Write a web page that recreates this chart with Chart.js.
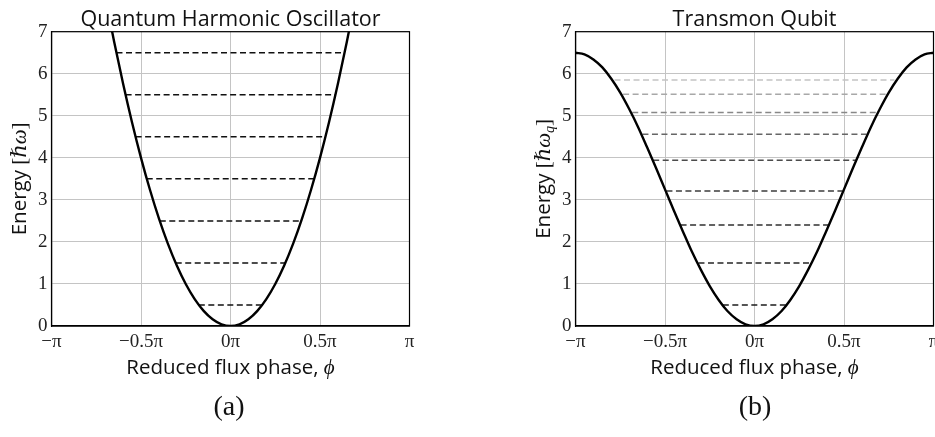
<!DOCTYPE html>
<html>
<head>
<meta charset="utf-8">
<script src="https://cdn.jsdelivr.net/npm/chart.js@4.4.1/dist/chart.umd.min.js"></script>
<style>
    html, body { margin: 0; padding: 0; background: #fff; }
    body { width: 935px; height: 437px; overflow: hidden; position: relative; }
    canvas { position: absolute; top: 0; }
    #qho { left: 0; }
    #transmon { left: 524px; }
    .sub { position: absolute; top: 390px; width: 60px; margin-left: -30px; text-align: center;
           font: 28px "Liberation Serif", "DejaVu Serif", serif; color: #111; }
</style>
</head>
<body>
<canvas id="qho" width="460" height="437"></canvas>
<canvas id="transmon" width="460" height="437"></canvas>
<div class="sub" style="left:229px">(a)</div>
<div class="sub" style="left:755px">(b)</div>

<script>
// ---------------------------
// Data (phase in units of pi)
// ---------------------------
const xTickVals = [-1, -0.5, 0, 0.5, 1];
const xTickLabels = ["\u2212\u03c0", "\u22120.5\u03c0", "0\u03c0", "0.5\u03c0", "\u03c0"];

// harmonic potential
const qhoPhase = [-0.7, -0.65, -0.6, -0.55, -0.5, -0.45, -0.4, -0.35, -0.3, -0.25, -0.2, -0.15, -0.1, -0.05, 0,
                  0.05, 0.1, 0.15, 0.2, 0.25, 0.3, 0.35, 0.4, 0.45, 0.5, 0.55, 0.6, 0.65, 0.7];
const qhoPotential = [7.84, 6.76, 5.76, 4.84, 4.0, 3.24, 2.56, 1.96, 1.44, 1.0, 0.64, 0.36, 0.16, 0.04, 0,
                      0.04, 0.16, 0.36, 0.64, 1.0, 1.44, 1.96, 2.56, 3.24, 4.0, 4.84, 5.76, 6.76, 7.84];
const qhoLevels = [0.5, 1.5, 2.5, 3.5, 4.5, 5.5, 6.5];
const qhoLevelHalfWidth = [0.177, 0.306, 0.395, 0.468, 0.53, 0.586, 0.637];

// cosine potential
const tmPhase = [-1, -0.95, -0.9, -0.85, -0.8, -0.75, -0.7, -0.65, -0.6, -0.55, -0.5, -0.45, -0.4, -0.35, -0.3,
                 -0.25, -0.2, -0.15, -0.1, -0.05, 0, 0.05, 0.1, 0.15, 0.2, 0.25, 0.3, 0.35, 0.4, 0.45, 0.5,
                 0.55, 0.6, 0.65, 0.7, 0.75, 0.8, 0.85, 0.9, 0.95, 1];
const tmPotential = [6.5, 6.46, 6.34, 6.15, 5.88, 5.55, 5.16, 4.73, 4.25, 3.76, 3.25, 2.74, 2.25, 1.77, 1.34,
                     0.95, 0.62, 0.35, 0.16, 0.04, 0, 0.04, 0.16, 0.35, 0.62, 0.95, 1.34, 1.77, 2.25, 2.74, 3.25,
                     3.76, 4.25, 4.73, 5.16, 5.55, 5.88, 6.15, 6.34, 6.46, 6.5];
const tmLevels = [0.5, 1.5, 2.4, 3.21, 3.94, 4.56, 5.08, 5.51, 5.85];
const tmLevelHalfWidth = [0.177, 0.313, 0.413, 0.492, 0.566, 0.626, 0.683, 0.734, 0.782];

// styles
const tmLevelGreys = ["#1c1c1c", "#262626", "#303030", "#3c3c3c", "#4c4c4c", "#666666", "#888888", "#a8a8a8", "#c4c4c4"];
const SANS = '"Open Sans", "DejaVu Sans", sans-serif';
const SERIF = '"Liberation Serif", "DejaVu Serif", serif';

// ---------------------------
// Helpers
// ---------------------------
function curveDataset(xs, ys) {
    return {
        data: xs.map((x, i) => ({ x: x, y: ys[i] })),
        borderColor: "#000",
        borderWidth: 2.4,
        pointRadius: 0,
        cubicInterpolationMode: "monotone",
        order: 0
    };
}

function levelDatasets(levels, halfWidths, colors) {
    return levels.map((e, i) => ({
        data: [{ x: -halfWidths[i], y: e }, { x: halfWidths[i], y: e }],
        borderColor: colors ? colors[i] : "#111",
        borderWidth: 1.5,
        borderDash: [6, 3.5],
        pointRadius: 0,
        order: 1
    }));
}

// draws a row of text runs with different fonts
function drawRuns(ctx, runs, x, y, align) {
    let total = 0;
    runs.forEach(r => { ctx.font = r.font; total += ctx.measureText(r.text).width; });
    let cx = align === "center" ? x - total / 2 : x;
    runs.forEach(r => {
        ctx.font = r.font;
        ctx.fillText(r.text, cx, y + (r.dy || 0));
        cx += ctx.measureText(r.text).width;
    });
}

const decorPlugin = {
    id: "decor",
    afterDraw(chart, args, opts) {
        const ctx = chart.ctx;
        const a = chart.chartArea;
        ctx.save();
        // frame
        ctx.strokeStyle = "#000";
        ctx.lineWidth = 1.2;
        ctx.strokeRect(a.left, a.top, a.right - a.left, a.bottom - a.top);

        ctx.fillStyle = "#111";
        ctx.textBaseline = "alphabetic";
        ctx.textAlign = "left";
        // title
        drawRuns(ctx, [{ text: opts.title, font: "21.5px " + SANS }], (a.left + a.right) / 2, a.top - 6, "center");

        // x title
        drawRuns(ctx, [
            { text: "Reduced flux phase, ", font: "20.5px " + SANS },
            { text: "\u03d5", font: "italic 21px " + SERIF }
        ], (a.left + a.right) / 2, a.bottom + 48, "center");

        // y title
        ctx.translate(a.left - 26, (a.top + a.bottom) / 2);
        ctx.rotate(-Math.PI / 2);
        const runs = [
            { text: "Energy ", font: "20.5px " + SANS },
            { text: "[", font: "21px " + SERIF },
            { text: "\u210f\u03c9", font: "italic 21px " + SERIF }
        ];
        if (opts.sub) runs.push({ text: opts.sub, font: "italic 14px " + SERIF, dy: 4 });
        runs.push({ text: "]", font: "21px " + SERIF });
        drawRuns(ctx, runs, 0, 0, "center");
        ctx.restore();
    }
};

function makeChart(id, datasets, title, sub) {
    const ctx = document.getElementById(id).getContext("2d");
    return new Chart(ctx, {
        type: "line",
        data: { datasets: datasets },
        plugins: [decorPlugin],
        options: {
            responsive: false,
            animation: false,
            devicePixelRatio: 1,
            layout: { padding: { left: 0, right: 50.5, top: 31.7, bottom: 0 } },
            plugins: {
                legend: { display: false },
                tooltip: { enabled: false },
                decor: { title: title, sub: sub }
            },
            scales: {
                x: {
                    type: "linear",
                    min: -1,
                    max: 1,
                    afterBuildTicks: s => { s.ticks = xTickVals.map(v => ({ value: v })); },
                    afterFit: s => { s.height = 111; },
                    ticks: {
                        autoSkip: false,
                        maxRotation: 0,
                        padding: 5,
                        color: "#222",
                        font: { family: SERIF, size: 19 },
                        callback: v => xTickLabels[xTickVals.indexOf(v)]
                    },
                    grid: { color: "#c4c4c4", lineWidth: 1, drawTicks: false },
                    border: { color: "#000", width: 1.2 }
                },
                y: {
                    min: 0,
                    max: 7,
                    afterFit: s => { s.width = 51.5; },
                    ticks: {
                        stepSize: 1,
                        padding: 4,
                        color: "#222",
                        font: { family: SERIF, size: 19 }
                    },
                    grid: { color: "#c4c4c4", lineWidth: 1, drawTicks: false },
                    border: { color: "#000", width: 1.2 }
                }
            }
        }
    });
}

document.addEventListener("DOMContentLoaded", () => {
    makeChart("qho",
        [curveDataset(qhoPhase, qhoPotential)].concat(levelDatasets(qhoLevels, qhoLevelHalfWidth, null)),
        "Quantum Harmonic Oscillator", null);
    makeChart("transmon",
        [curveDataset(tmPhase, tmPotential)].concat(levelDatasets(tmLevels, tmLevelHalfWidth, tmLevelGreys)),
        "Transmon Qubit", "q");
});
</script>
</body>
</html>
